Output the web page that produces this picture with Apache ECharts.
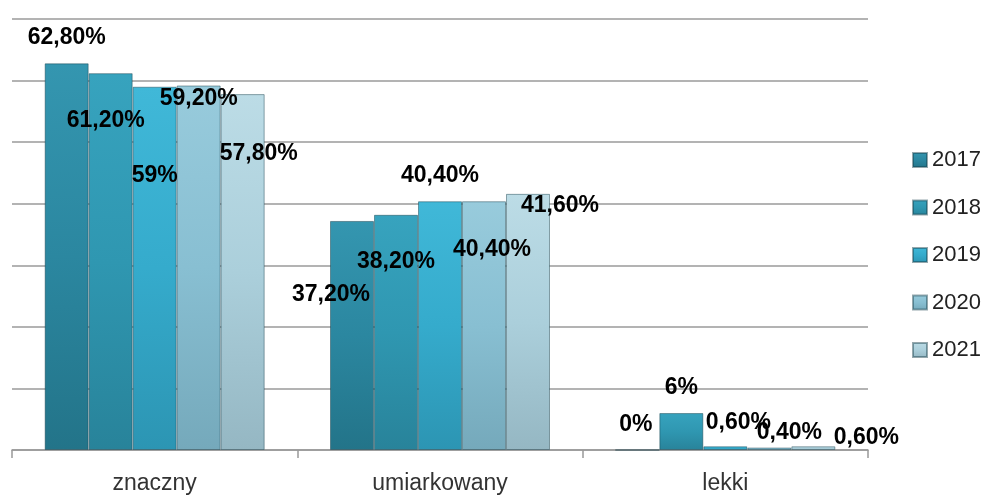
<!DOCTYPE html>
<html>
<head>
<meta charset="utf-8">
<script src="https://cdn.jsdelivr.net/npm/echarts@6/dist/echarts.min.js"></script>
<style>html,body{margin:0;padding:0;background:#fff}#c{width:987px;height:495px}</style>
</head>
<body>
<div id="c"></div>
<script>
var categories = ['znaczny', 'umiarkowany', 'lekki'];
var years = ['2017', '2018', '2019', '2020', '2021'];
var values2017 = [62.8, 37.2, 0];
var values2018 = [61.2, 38.2, 6];
var values2019 = [59, 40.4, 0.6];
var values2020 = [59.2, 40.4, 0.4];
var values2021 = [57.8, 41.6, 0.6];
var labels2017 = ['62,80%', '37,20%', '0%'];
var labels2018 = ['61,20%', '38,20%', '6%'];
var labels2019 = ['59%', '40,40%', '0,60%'];
var labels2020 = ['59,20%', '40,40%', '0,40%'];
var labels2021 = ['57,80%', '41,60%', '0,60%'];

var seriesValues = [values2017, values2018, values2019, values2020, values2021];
var seriesLabels = [labels2017, labels2018, labels2019, labels2020, labels2021];

// styling: label placement relative to bar top-left (Excel-like scattered labels)
var labelPos = [
  [[22, -26], [1, 74], [21, -25]],
  [[17, 47], [22, 47], [22, -25]],
  [[22, 89], [22, -26], [35, -24]],
  [[22, 13], [30, 48], [42, -15]],
  [[38, 60], [54, 12], [75, -9]]
];
var colors = [
  ['#3496b0', '#2b87a0', '#237489'],
  ['#37a3be', '#2f97b1', '#28839a'],
  ['#40b8d8', '#35abcc', '#2c95b3'],
  ['#98cbdc', '#88bfd2', '#75a9bb'],
  ['#bcdce6', '#abcfdb', '#95b7c3']
];

var series = years.map(function (y, i) {
  var c = colors[i];
  return {
    name: y,
    type: 'bar',
    barWidth: 44,
    barGap: '0%',
    data: seriesValues[i].map(function (v, j) {
      return {
        value: v,
        label: {
          show: true,
          position: labelPos[i][j],
          align: 'center',
          verticalAlign: 'middle',
          formatter: seriesLabels[i][j],
          fontFamily: 'Liberation Sans, Arial, sans-serif',
          fontWeight: 'bold',
          fontSize: 23,
          color: '#000'
        }
      };
    }),
    itemStyle: {
      color: new echarts.graphic.LinearGradient(0, 0, 0, 1, [
        {offset: 0, color: c[0]},
        {offset: 0.5, color: c[1]},
        {offset: 1, color: c[2]}
      ]),
      borderColor: 'rgba(20,60,70,0.45)',
      borderWidth: 1
    },
    z: 2
  };
});

var chart = echarts.init(document.getElementById('c'));
chart.setOption({
  animation: false,
  color: colors.map(function (c) { return c[1]; }),
  grid: {left: 12, right: 119, top: 19, bottom: 45, containLabel: false},
  legend: {
    orient: 'vertical',
    left: 912,
    top: 149,
    padding: 0,
    itemWidth: 14,
    itemHeight: 14,
    itemGap: 25.5,
    icon: 'rect',
    data: years,
    textStyle: {fontFamily: 'Liberation Sans, Arial, sans-serif', fontSize: 22, color: '#222'}
  },
  xAxis: {
    type: 'category',
    data: categories,
    axisLine: {lineStyle: {color: '#999', width: 1.5}},
    axisTick: {show: true, length: 8, lineStyle: {color: '#999', width: 1.5}},
    axisLabel: {
      margin: 22,
      fontFamily: 'Liberation Sans, Arial, sans-serif',
      fontSize: 23,
      color: '#333'
    }
  },
  yAxis: {
    type: 'value',
    min: 0,
    max: 70,
    interval: 10,
    axisLabel: {show: false},
    axisLine: {show: false},
    axisTick: {show: false},
    splitLine: {lineStyle: {color: '#9a9a9a', width: 1.5}}
  },
  series: series
});
</script>
</body>
</html>
